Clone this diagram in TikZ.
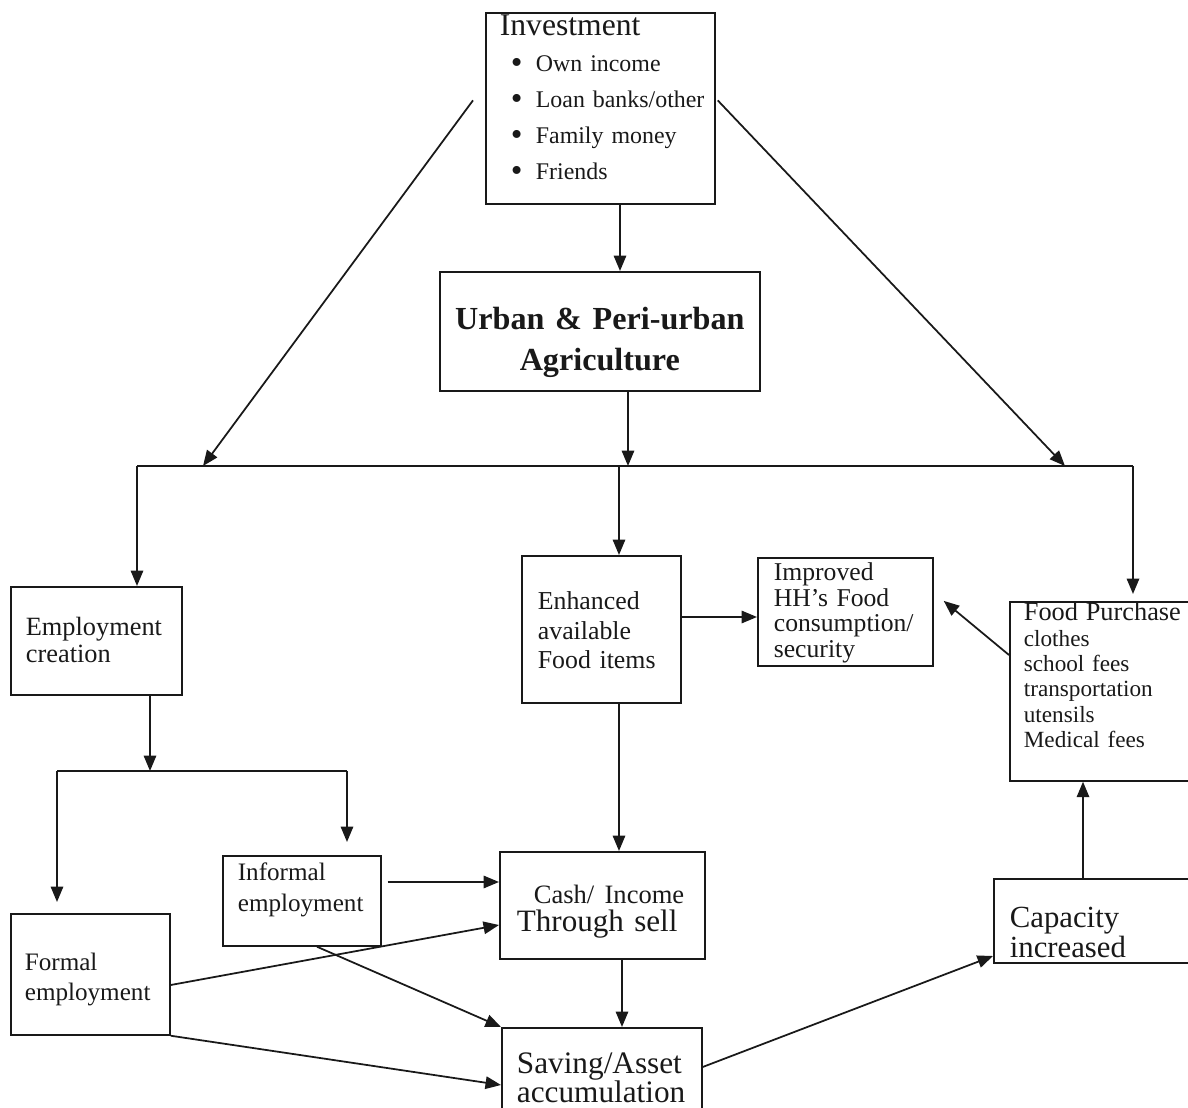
\documentclass[tikz,border=0pt]{standalone}
\usepackage{fontspec}
\setmainfont{Liberation Serif}
\usepackage{tikz}
\usetikzlibrary{calc}
\usetikzlibrary{arrows.meta}
\definecolor{ink}{RGB}{25, 25, 25}
\hyphenpenalty=10000
\tikzset{
  box/.style={draw=ink, line width=1pt, anchor=north west, align=left, inner ysep=0pt, text=ink},
  arr/.style={ink, line width=1pt, -{Triangle[length=0.31cm, width=0.25cm]}}
}
\newcommand{\invitem}[1]{\mbox{\hspace*{0.22cm}\makebox[0.5cm][l]{\raisebox{-1.2pt}{\fontsize{19}{19}\selectfont\textbullet}}#1}}

\begin{document}
\lineskiplimit=-50pt
\begin{tikzpicture}[x=0.02cm, y=-0.02cm]
            \useasboundingbox (0,0) rectangle (1188,1108);
            \clip (0,0) rectangle (1188,1108);
            \node[box, inner xsep=0.28cm, text width=4.02cm, text height=0.46cm, text depth=3.36cm,
                  font=\fontsize{13.6}{20.4}\selectfont] (inv) at (485,12)
                 {{\fontsize{18}{20.4}\selectfont Investment}\\
                  \invitem{Own income}\\
                  \invitem{Loan banks/other}\\
                  \invitem{Family money}\\
                  \invitem{Friends}};
            \node[box, align=center, inner xsep=0.2cm, text width=6cm, text height=1.16cm, text depth=1.22cm,
                  font=\bfseries\fontsize{18.3}{23.2}\selectfont] (urban) at (439,271)
                 {Urban \& Peri-urban\\Agriculture};
            \node[box, inner xsep=0.3cm, text width=2.82cm, text height=0.98cm, text depth=1.18cm,
                  font=\fontsize{15}{15.3}\selectfont] (emp) at (10,586) {Employment\\creation};
            \node[box, inner xsep=0.32cm, text width=2.54cm, text height=1.08cm, text depth=1.86cm,
                  font=\fontsize{14.7}{16.7}\selectfont] (enh) at (521,555) {Enhanced\\available\\Food items};
            \node[box, inner xsep=0.32cm, text width=2.86cm, text height=0.46cm, text depth=1.70cm,
                  font=\fontsize{14.6}{14.5}\selectfont] (imp) at (757,557) {Improved\\HH’s Food\\consumption/\\security};
            \node[box, inner xsep=0.28cm, text width=3.26cm, text height=0.38cm, text depth=3.2cm,
                  font=\fontsize{13.2}{14.4}\selectfont] (food) at (1009,601)
                 {{\fontsize{15}{14.4}\selectfont Food Purchase}\\clothes\\school fees\\transportation\\utensils\\Medical fees};
            \node[box, inner xsep=0.3cm, text width=2.56cm, text height=0.5cm, text depth=1.3cm,
                  font=\fontsize{14.3}{17.6}\selectfont] (inf) at (222,855) {Informal\\employment};
            \node[box, inner xsep=0.28cm, text width=2.62cm, text height=1.14cm, text depth=1.28cm,
                  font=\fontsize{14.3}{17}\selectfont] (form) at (10,913) {Formal\\employment};
            \node[box, inner xsep=0.34cm, text width=3.42cm, text height=1.04cm, text depth=1.1cm,
                  font=\fontsize{17.7}{15.9}\selectfont] (cash) at (499,851)
                 {\hspace*{0.34cm}{\fontsize{15.1}{15.9}\selectfont Cash/ Income}\\Through sell};
            \node[box, inner xsep=0.32cm, text width=3.5cm, text height=0.98cm, text depth=0.7cm,
                  font=\fontsize{17.5}{14.7}\selectfont] (cap) at (993,878) {Capacity\\increased};
            \node[box, inner xsep=0.3cm, text width=3.4cm, text height=0.92cm, text depth=0.94cm,
                  font=\fontsize{17.8}{16.4}\selectfont] (sav) at (501,1027) {Saving/Asset\\accumulation};

            \coordinate (busW) at (137,466);
            \coordinate (busA) at (203,466);
            \coordinate (busC) at (619,466);
            \coordinate (busU) at (628,466);
            \coordinate (busB) at (1065,466);
            \coordinate (busE) at (1133,466);
            \coordinate (subW) at (57,771);
            \coordinate (subM) at (150,771);
            \coordinate (subE) at (347,771);

            \draw[arr] (inv.south -| 620,0) -- (urban.north -| 620,0);
            \draw[arr] ($(inv.west)+(-12,-8)$) -- (busA);
            \draw[arr] ($(inv.east)+(2,-8)$) -- (busB);
            \draw[arr] (urban.south -| busU) -- (busU);
            \draw[ink, line width=1pt] (busW) -- (busE);
            \draw[arr] (busW) -- (busW |- emp.north);
            \draw[arr] (busC) -- (busC |- enh.north);
            \draw[arr, shorten >=0.14cm] (busE) -- (busE |- food.north);
            \draw[arr] (emp.south -| subM) -- (subM);
            \draw[ink, line width=1pt] (subW) -- (subE);
            \draw[arr, shorten >=0.22cm] (subW) -- (subW |- form.north);
            \draw[arr, shorten >=0.26cm] (subE) -- (subE |- inf.north);
            \draw[arr] (enh.east |- 0,617) -- (imp.west |- 0,617);
            \draw[arr] (food.west |- 0,655) -- ($(imp.east)+(10,-11)$);
            \draw[arr] (enh.south -| 619,0) -- (cash.north -| 619,0);
            \draw[arr, shorten <=0.12cm] (inf.east |- 0,882) -- (cash.west |- 0,882);
            \draw[arr] (form.east |- 0,985) -- (cash.west |- 0,925);
            \draw[arr] (inf.south -| 317,0) -- (sav.north west);
            \draw[arr] (form.south east) -- (sav.west |- 0,1085);
            \draw[arr] (cash.south -| 622,0) -- (sav.north -| 622,0);
            \draw[arr] (sav.east |- 0,1067) -- (cap.west |- 0,956);
            \draw[arr] (cap.north -| 1083,0) -- (food.south -| 1083,0);
        \end{tikzpicture}
\end{document}
